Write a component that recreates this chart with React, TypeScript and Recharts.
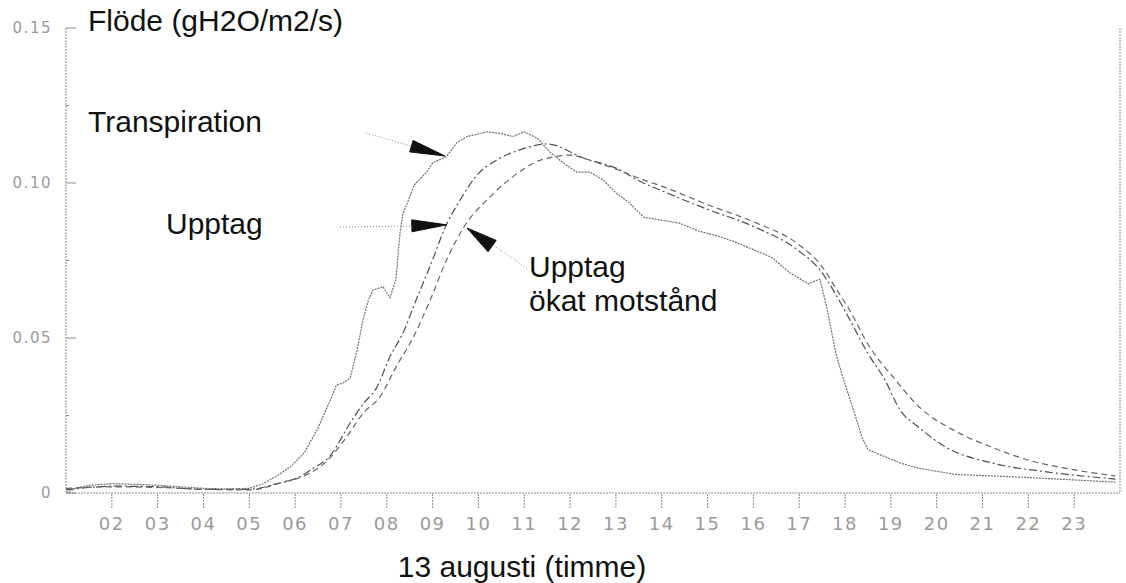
import React from 'react';
import { LineChart, Line, XAxis, YAxis, ReferenceLine, ReferenceDot } from 'recharts';

// ---- axis ticks ----
const hourTicks = [2, 3, 4, 5, 6, 7, 8, 9, 10, 11, 12, 13, 14, 15, 16, 17, 18, 19, 20, 21, 22, 23];
const hourLabels = ['02', '03', '04', '05', '06', '07', '08', '09', '10', '11', '12', '13', '14', '15', '16', '17', '18', '19', '20', '21', '22', '23'];
const yTicks = [0, 0.025, 0.05, 0.075, 0.1, 0.125, 0.15];
const yTickLabels = ['0', '', '0.05', '', '0.10', '', '0.15'];

// ---- series: Transpiration ----
const transpirationHours = [1.0, 1.2, 1.5, 2.0, 2.5, 3.0, 3.5, 4.0, 4.5, 5.0, 5.3, 5.6, 5.9, 6.2, 6.5, 6.8, 6.9, 7.05, 7.2, 7.35, 7.48, 7.6, 7.7, 7.92, 8.07, 8.2, 8.29, 8.35, 8.5, 8.6, 8.87, 9.0, 9.3, 9.53, 9.75, 10.2, 10.47, 10.75, 11.0, 11.28, 11.56, 11.85, 12.15, 12.43, 12.72, 13.0, 13.3, 13.6, 14.0, 14.4, 14.8, 15.2, 15.6, 16.0, 16.4, 16.8, 17.2, 17.45, 17.6, 17.8, 17.97, 18.2, 18.37, 18.5, 19.2, 19.6, 20.4, 22.0, 23.9];
const transpirationValues = [0.0, 0.0015, 0.0025, 0.003, 0.0028, 0.0025, 0.002, 0.0015, 0.0013, 0.0015, 0.003, 0.0055, 0.0085, 0.013, 0.021, 0.031, 0.0348, 0.0355, 0.037, 0.046, 0.0558, 0.0623, 0.0655, 0.0665, 0.063, 0.069, 0.084, 0.09, 0.0955, 0.0994, 0.1035, 0.1065, 0.1085, 0.113, 0.115, 0.1165, 0.116, 0.115, 0.1165, 0.1145, 0.11, 0.1065, 0.1035, 0.1035, 0.101, 0.0968, 0.0935, 0.089, 0.088, 0.087, 0.0845, 0.083, 0.081, 0.0785, 0.076, 0.071, 0.0675, 0.069, 0.06, 0.045, 0.0365, 0.026, 0.018, 0.014, 0.0097, 0.008, 0.006, 0.005, 0.0035];

// ---- series: Upptag ----
const upptagHours = [1.0, 1.5, 2.0, 3.0, 4.0, 5.0, 5.6, 6.07, 6.4, 6.74, 7.24, 7.5, 7.78, 8.07, 8.35, 8.66, 8.94, 9.3, 9.6, 9.97, 10.4, 10.97, 11.5, 12.3, 13.0, 13.6, 14.0, 15.0, 16.0, 17.0, 17.45, 17.8, 18.1, 18.5, 18.87, 19.2, 19.6, 20.2, 21.2, 22.4, 23.9];
const upptagValues = [0.001, 0.0018, 0.0022, 0.002, 0.0012, 0.0012, 0.003, 0.005, 0.008, 0.0116, 0.0235, 0.029, 0.034, 0.044, 0.0515, 0.063, 0.073, 0.0865, 0.0945, 0.1026, 0.1074, 0.111, 0.1126, 0.108, 0.1048, 0.1, 0.0975, 0.0915, 0.086, 0.078, 0.072, 0.064, 0.056, 0.045, 0.0365, 0.0268, 0.0213, 0.0148, 0.0097, 0.0068, 0.0045];

// ---- series: Upptag, ökat motstånd ----
const motstandHours = [1.0, 2.0, 3.0, 4.0, 5.0, 5.74, 6.24, 6.65, 7.07, 7.5, 7.85, 8.2, 8.57, 8.94, 9.3, 9.67, 10.25, 10.84, 11.28, 11.63, 12.0, 12.5, 13.0, 13.6, 14.0, 15.0, 16.0, 17.0, 17.5, 17.8, 18.1, 18.5, 19.1, 19.6, 20.4, 21.2, 22.0, 22.8, 23.9];
const motstandValues = [0.0015, 0.002, 0.0018, 0.0012, 0.001, 0.0035, 0.0058, 0.0097, 0.017, 0.026, 0.031, 0.0406, 0.05, 0.062, 0.075, 0.0855, 0.0955, 0.103, 0.107, 0.1084, 0.109, 0.107, 0.1045, 0.101, 0.099, 0.093, 0.0875, 0.08, 0.073, 0.066, 0.059, 0.048, 0.0365, 0.028, 0.02, 0.0148, 0.0106, 0.008, 0.0055];

// ---- annotation arrows (data coordinates) ----
const leaderStarts = [{ x: 7.55, y: 0.1161 }, { x: 6.98, y: 0.0858 }, { x: 11.06, y: 0.0726 }];
const leaderEnds = [{ x: 8.53, y: 0.1119 }, { x: 8.55, y: 0.0861 }, { x: 10.34, y: 0.0797 }];
const arrowTips = [{ x: 9.27, y: 0.1087 }, { x: 9.31, y: 0.0865 }, { x: 9.75, y: 0.0855 }];
const arrowAngles = [16.4, -1.6, -144.2];

const toRows = (hs: number[], vs: number[]) => hs.map((h, i) => ({ h, v: vs[i] }));
const transpirationData = toRows(transpirationHours, transpirationValues);
const upptagData = toRows(upptagHours, upptagValues);
const motstandData = toRows(motstandHours, motstandValues);

const GREY_TEXT = '#9a9a9a';
const AXIS = '#8a8a8a';
const TICK_FONT = '"DejaVu Sans", sans-serif';
const LABEL_FONT = '"Liberation Sans", Arial, sans-serif';

const LeftTick = (props: any) => {
  const { x, y, payload } = props;
  const idx = yTicks.indexOf(payload.value);
  const label = idx >= 0 ? yTickLabels[idx] : '';
  const major = label !== '';
  return (
    <g>
      {major && (
        <text x={x} y={y} dy="0.36em" textAnchor="end" fill={GREY_TEXT} fontSize={15} fontFamily={TICK_FONT} letterSpacing={1.5}>
          {label}
        </text>
      )}
      <line x1={x + 14} x2={x + 14 + (major ? 10 : 3)} y1={y} y2={y} stroke={AXIS} strokeWidth={1} />
    </g>
  );
};

const RightTick = (props: any) => {
  const { x, y, payload } = props;
  const idx = yTicks.indexOf(payload.value);
  const major = idx >= 0 && yTickLabels[idx] !== '';
  return <line x1={x} x2={x - (major ? 9 : 3)} y1={y} y2={y} stroke={AXIS} strokeWidth={1} />;
};

const makeArrow = (angleDeg: number, len: number, halfW: number) => (props: any) => {
  const { cx, cy } = props;
  if (cx == null || cy == null) return <g />;
  const a = (angleDeg * Math.PI) / 180;
  const dx = Math.cos(a);
  const dy = Math.sin(a);
  const bx = cx - len * dx;
  const by = cy - len * dy;
  const px = -dy * halfW;
  const py = dx * halfW;
  const pts = `${cx},${cy} ${bx + px},${by + py} ${bx - px},${by - py}`;
  return <polygon points={pts} fill="#111" stroke="#111" strokeWidth={1} />;
};

export default function App() {
  return (
    <div style={{ position: 'absolute', left: 0, top: 0, width: 1126, height: 583, background: '#fff' }}>
      <LineChart width={1126} height={583} margin={{ top: 28, right: 0, bottom: 60, left: 26 }}>
        <XAxis
          dataKey="h"
          type="number"
          domain={[1, 24]}
          ticks={hourTicks}
          interval={0}
          allowDataOverflow
          height={30}
          tickSize={15}
          tickMargin={9}
          tickLine={{ stroke: AXIS, strokeDasharray: '2 1' }}
          axisLine={{ stroke: AXIS, strokeDasharray: '2 1' }}
          tick={{ fill: GREY_TEXT, fontSize: 18, fontFamily: TICK_FONT, letterSpacing: 1.5 }}
          tickFormatter={(v: number) => hourLabels[hourTicks.indexOf(v)] ?? ''}
        />
        <YAxis
          yAxisId="left"
          type="number"
          domain={[0, 0.15]}
          ticks={yTicks}
          interval={0}
          width={40}
          tickSize={0}
          tickMargin={14}
          tickLine={false}
          axisLine={{ stroke: AXIS, strokeDasharray: '2 1' }}
          tick={<LeftTick />}
        />
        <YAxis
          yAxisId="right"
          orientation="right"
          type="number"
          domain={[0, 0.15]}
          ticks={yTicks}
          interval={0}
          width={6}
          tickSize={0}
          tickMargin={0}
          tickLine={false}
          axisLine={{ stroke: AXIS, strokeDasharray: '2 1' }}
          tick={<RightTick />}
        />
        <Line
          yAxisId="left"
          data={transpirationData}
          dataKey="v"
          type="linear"
          stroke="#707070"
          strokeWidth={1.2}
          strokeDasharray="2 1"
          dot={false}
          isAnimationActive={false}
        />
        <Line
          yAxisId="left"
          data={upptagData}
          dataKey="v"
          type="monotone"
          stroke="#505050"
          strokeWidth={1.2}
          strokeDasharray="8 3 2 3"
          dot={false}
          isAnimationActive={false}
        />
        <Line
          yAxisId="left"
          data={motstandData}
          dataKey="v"
          type="monotone"
          stroke="#666666"
          strokeWidth={1.2}
          strokeDasharray="6 4"
          dot={false}
          isAnimationActive={false}
        />
        {leaderStarts.map((s, i) => (
          <ReferenceLine
            key={`lead-${i}`}
            yAxisId="left"
            segment={[s, leaderEnds[i]]}
            stroke="#888"
            strokeWidth={1}
            strokeDasharray="1 2"
          />
        ))}
        {arrowTips.map((t, i) => (
          <ReferenceDot
            key={`tip-${i}`}
            yAxisId="left"
            x={t.x}
            y={t.y}
            r={1}
            shape={makeArrow(arrowAngles[i], i === 2 ? 31 : 35, i === 2 ? 7 : 6)}
          />
        ))}
      </LineChart>
      <svg width={1126} height={583} style={{ position: 'absolute', left: 0, top: 0, pointerEvents: 'none' }}>
        <g fontFamily={LABEL_FONT} fontSize={30} fill="#111">
          <text x={88} y={31}>Flöde (gH2O/m2/s)</text>
          <text x={88} y={132}>Transpiration</text>
          <text x={166} y={234}>Upptag</text>
          <text x={529} y={277}>Upptag</text>
          <text x={529} y={311}>ökat motstånd</text>
          <text x={522} y={577} textAnchor="middle">13 augusti (timme)</text>
        </g>
      </svg>
    </div>
  );
}
